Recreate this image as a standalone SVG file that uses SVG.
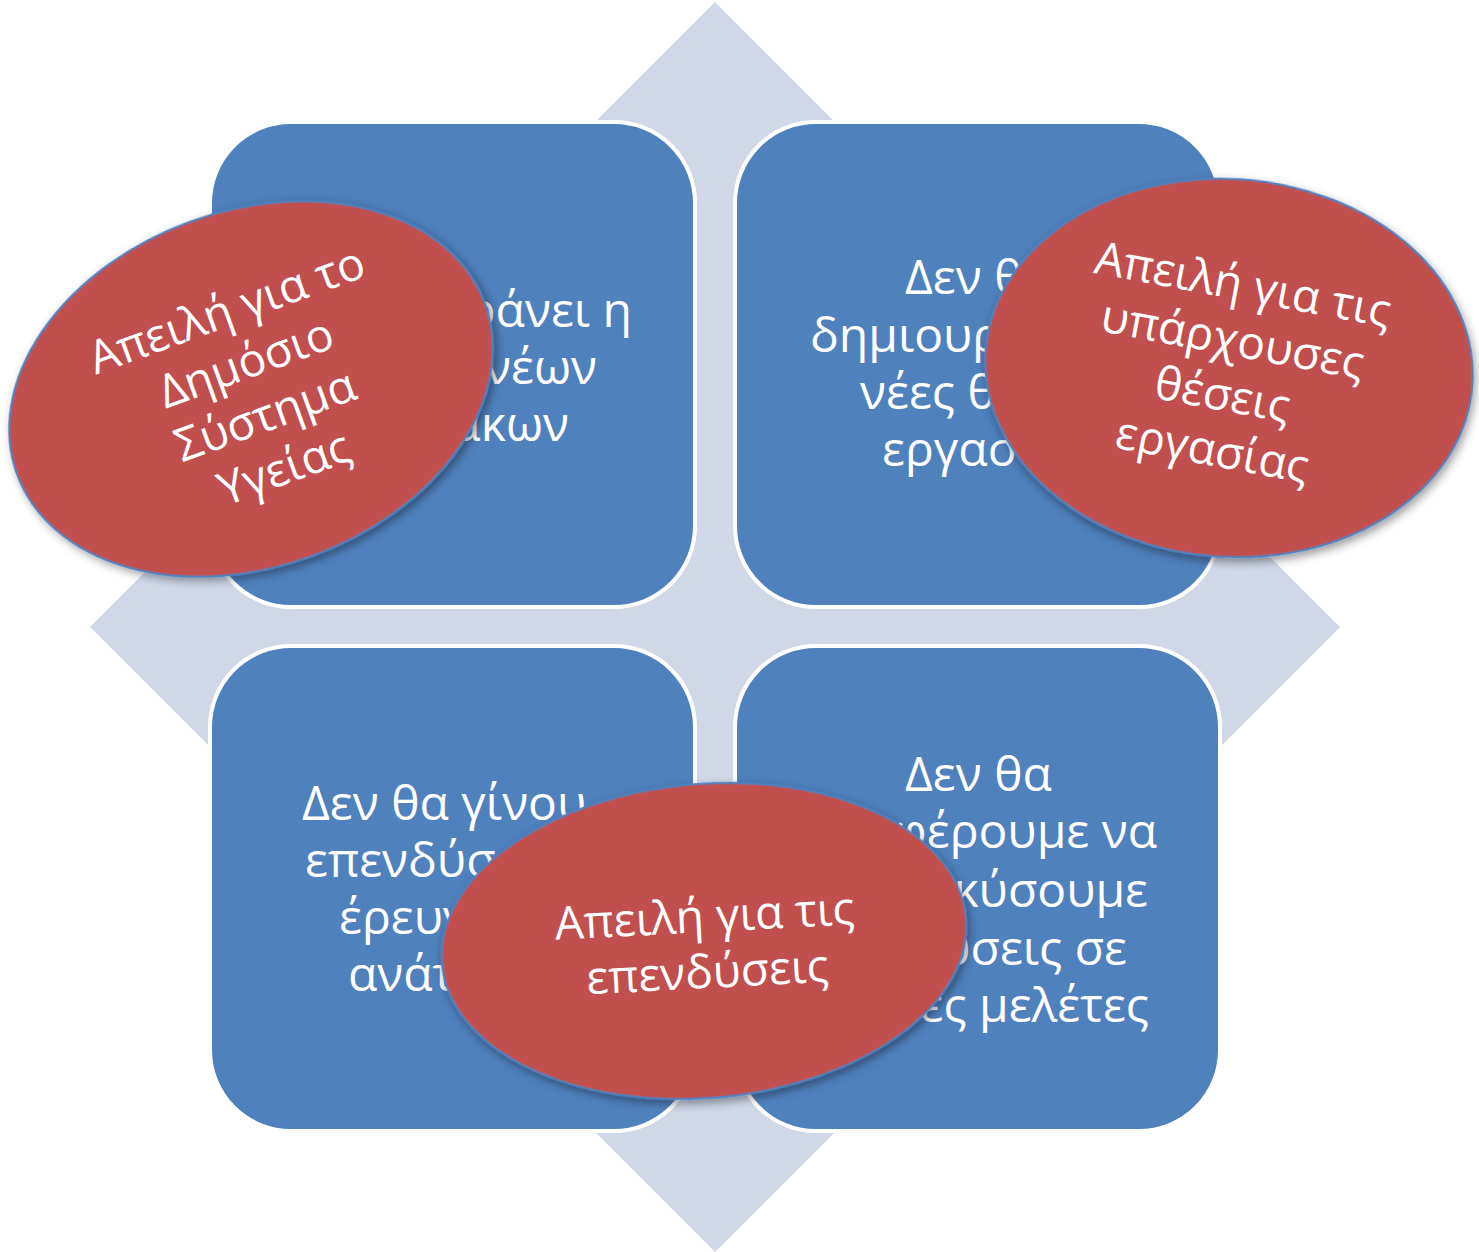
<svg xmlns="http://www.w3.org/2000/svg" width="1479" height="1252" viewBox="0 0 1479 1252">
<defs>
<filter id="sh" x="-20%" y="-20%" width="140%" height="140%">
<feDropShadow dx="2" dy="4" stdDeviation="5" flood-color="#000" flood-opacity="0.4"/>
</filter>
</defs>
<style>
.sq{fill:#4F81BD;stroke:#FFFFFF;stroke-width:4}
.el{fill:#C0504D;stroke:#4F81BD;stroke-width:2}
.t{font-family:"Open Sans","Noto Sans",sans-serif;font-size:48px;fill:#FFFFFF}
.r{font-size:46px}
.c{text-anchor:middle}
.e{text-anchor:end}
</style>
<rect width="1479" height="1252" fill="#FFFFFF"/>
<g id="diamond">
<polygon points="715,2 1340,627 715,1252 90,627" fill="#D0D8E8"/>
</g>
<g id="connectors"></g>
<g id="node-tl">
<rect class="sq" x="210" y="122" width="485" height="485" rx="81"/>
<text class="t e" x="632" y="327">ράνει η</text>
<text class="t e" x="597" y="384">νέων</text>
<text class="t e" x="569" y="441">ακων</text>
</g>
<g id="node-tr">
<rect class="sq" x="735" y="122" width="485" height="485" rx="81"/>
<text class="t" x="905" y="294">Δεν θ</text>
<text class="t" x="810" y="352">δημιουρ</text>
<text class="t" x="860" y="409">νέες θ</text>
<text class="t" x="882" y="466">εργασί</text>
</g>
<g id="node-bl">
<rect class="sq" x="210" y="646" width="485" height="485" rx="81"/>
<text class="t" x="302" y="820">Δεν θα γίνου</text>
<text class="t" x="305" y="877">επενδύσ</text>
<text class="t" x="339" y="934">έρευν</text>
<text class="t" x="348" y="991">ανάτ</text>
</g>
<g id="node-br">
<rect class="sq" x="735" y="646" width="485" height="485" rx="81"/>
<text class="t" x="905" y="791">Δεν θα</text>
<text class="t e" x="1157" y="848">φέρουμε να</text>
<text class="t e" x="1148" y="907">κύσουμε</text>
<text class="t e" x="1127" y="965">υσεις σε</text>
<text class="t e" x="1149" y="1022">ες μελέτες</text>
</g>
<g id="threat-health">
<ellipse class="el" cx="251" cy="389" rx="249" ry="178" transform="rotate(-20 251 389)" filter="url(#sh)"/>
<g transform="translate(255 388) rotate(-20)">
<text class="t r c" x="0" y="-67">Απειλή για το</text>
<text class="t r c" x="0" y="-11">Δημόσιο</text>
<text class="t r c" x="0" y="45">Σύστημα</text>
<text class="t r c" x="0" y="101">Υγείας</text>
</g>
</g>
<g id="threat-jobs">
<ellipse class="el" cx="1229" cy="368" rx="244" ry="189" transform="rotate(4 1229 368)" filter="url(#sh)"/>
<g transform="translate(1228 366) rotate(10.5)">
<text class="t r c" x="0" y="-67">Απειλή για τις</text>
<text class="t r c" x="0" y="-11">υπάρχουσες</text>
<text class="t r c" x="0" y="45">θέσεις</text>
<text class="t r c" x="0" y="101">εργασίας</text>
</g>
</g>
<g id="threat-investments">
<ellipse class="el" cx="704" cy="941" rx="263" ry="157" transform="rotate(-5 704 941)" filter="url(#sh)"/>
<g transform="translate(706 943) rotate(-3)">
<text class="t r c" x="0" y="-11">Απειλή για τις</text>
<text class="t r c" x="0" y="45">επενδύσεις</text>
</g>
</g>
</svg>
